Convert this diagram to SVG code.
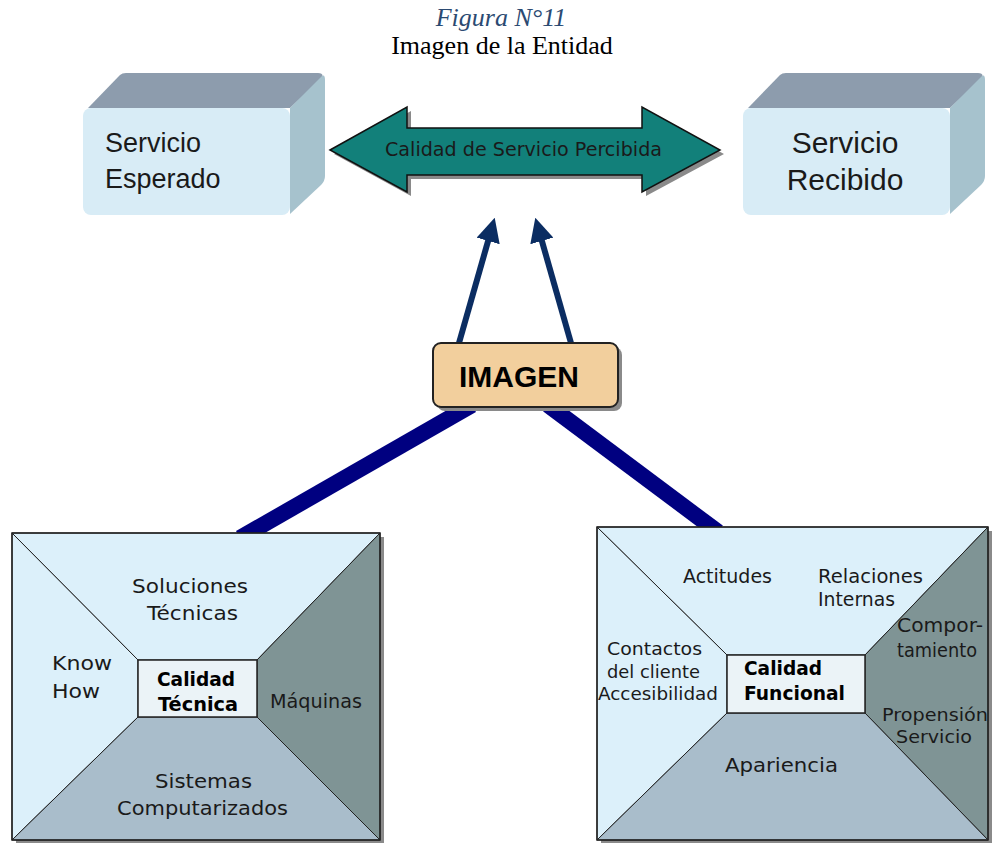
<svg xmlns="http://www.w3.org/2000/svg" width="994" height="843" viewBox="0 0 994 843">
<defs>
<style>
.title{font-family:"Liberation Serif","Times New Roman",serif;font-size:26px;text-anchor:middle}
.big{font-family:"Liberation Sans",Arial,sans-serif;fill:#1a1a1a}
.lbl{font-family:"DejaVu Sans","Liberation Sans",sans-serif;font-size:20px;fill:#1a1a1a}
.sm{font-size:18px}
.bold{font-family:"DejaVu Sans","Liberation Sans",sans-serif;font-size:19px;font-weight:bold;fill:#000}
.front{fill:#d8ecf6}
.top{fill:#8d9cad}
.side{fill:#a6c2cd}
.light{fill:#dcf0fa;stroke:#222;stroke-width:1}
.mid{fill:#a9bdcb;stroke:#222;stroke-width:1}
.dark{fill:#7f9495;stroke:#222;stroke-width:1}
.inner{fill:#ebf3f7;stroke:#222;stroke-width:1.5}
.shadow{fill:#8a8a8a}
.up{stroke:#0b2d62;stroke-width:6;fill:none;marker-end:url(#ah)}
.thick{stroke:#000080;stroke-width:16;fill:none}
</style>
<marker id="ah" viewBox="0 0 24 24" refX="12" refY="12" markerWidth="24" markerHeight="24" markerUnits="userSpaceOnUse" orient="auto">
<path d="M0,0 L24,12 L0,24 z" fill="#0b2d62"/>
</marker>
</defs>
<rect width="994" height="843" fill="#fff"/>

<g id="title">
<text class="title" x="501" y="26" font-style="italic" fill="#2b4a72">Figura N°11</text>
<text class="title" x="502" y="54" fill="#000">Imagen de la Entidad</text>
</g>

<g id="connectors">
<line class="thick" x1="472" y1="405" x2="240" y2="538"/>
<line class="thick" x1="548" y1="405" x2="718" y2="532"/>
<line class="up" x1="457" y1="350" x2="491.4" y2="229.4"/>
<line class="up" x1="573" y1="350" x2="538.6" y2="229.4"/>
</g>

<g id="servicio-esperado">
<path class="top" d="M88,108 L120,75 Q122,73 126,73 L318,73 Q324,73 322,78 L290,108 z"/>
<path class="side" d="M290,108 L322,76 Q325,74 325,80 L325,176 Q325,181 321,185 L290,214 z"/>
<rect class="front" x="83" y="108" width="207" height="107" rx="8"/>
<text class="big" font-size="27" x="105" y="152">Servicio</text>
<text class="big" font-size="27" x="105" y="188">Esperado</text>
</g>

<g id="servicio-recibido">
<path class="top" d="M748,108 L780,75 Q782,73 786,73 L978,73 Q984,73 982,78 L950,108 z"/>
<path class="side" d="M950,108 L982,76 Q985,74 985,80 L985,176 Q985,181 981,185 L950,214 z"/>
<rect class="front" x="743" y="108" width="207" height="107" rx="8"/>
<text class="big" font-size="30" x="845" y="153" text-anchor="middle">Servicio</text>
<text class="big" font-size="30" x="845" y="190" text-anchor="middle">Recibido</text>
</g>

<g id="calidad-percibida">
<polygon class="shadow" points="334,154 411,111 411,132 646,132 646,111 724,154 646,196 646,179 411,179 411,196"/>
<polygon points="330,150 407,107 407,128 642,128 642,107 720,150 642,192 642,175 407,175 407,192" fill="#12807a" stroke="#111" stroke-width="1.5"/>
<text class="lbl" x="385" y="156" font-size="19" textLength="277" lengthAdjust="spacingAndGlyphs" fill="#000">Calidad de Servicio Percibida</text>
</g>

<g id="imagen">
<rect class="shadow" x="437" y="347" width="185" height="64" rx="8"/>
<rect x="433" y="343" width="185" height="64" rx="8" fill="#f2cf9d" stroke="#222" stroke-width="2"/>
<text x="519" y="387" font-family="Liberation Sans,Arial,sans-serif" font-size="30" font-weight="bold" text-anchor="middle" fill="#000">IMAGEN</text>
</g>

<g id="calidad-tecnica">
<rect class="shadow" x="16" y="537" width="368" height="307"/>
<polygon class="light" points="12,533 380,533 257,660 138,660"/>
<polygon class="light" points="12,533 138,660 138,717 12,840"/>
<polygon class="dark" points="380,533 380,840 257,717 257,660"/>
<polygon class="mid" points="12,840 138,717 257,717 380,840"/>
<rect x="12" y="533" width="368" height="307" fill="none" stroke="#222" stroke-width="1.5"/>
<rect class="inner" x="138" y="660" width="119" height="57"/>
<text class="lbl" x="132" y="593" textLength="116" lengthAdjust="spacingAndGlyphs">Soluciones</text>
<text class="lbl" x="147" y="620" textLength="91" lengthAdjust="spacingAndGlyphs">Técnicas</text>
<text class="lbl" x="52" y="670" textLength="60" lengthAdjust="spacingAndGlyphs">Know</text>
<text class="lbl" x="52" y="698" textLength="48" lengthAdjust="spacingAndGlyphs">How</text>
<text class="bold" x="157" y="686" textLength="78" lengthAdjust="spacingAndGlyphs">Calidad</text>
<text class="bold" x="158" y="711" textLength="80" lengthAdjust="spacingAndGlyphs">Técnica</text>
<text class="lbl" x="270" y="708" font-size="18" textLength="92" lengthAdjust="spacingAndGlyphs">Máquinas</text>
<text class="lbl" x="155" y="788" textLength="97" lengthAdjust="spacingAndGlyphs">Sistemas</text>
<text class="lbl" x="117" y="815" textLength="171" lengthAdjust="spacingAndGlyphs">Computarizados</text>
</g>

<g id="calidad-funcional">
<rect class="shadow" x="601" y="531" width="391" height="313"/>
<polygon class="light" points="597,527 988,527 865,655 727,655"/>
<polygon class="light" points="597,527 727,655 727,713 597,840"/>
<polygon class="dark" points="988,527 988,840 865,713 865,655"/>
<polygon class="mid" points="597,840 727,713 865,713 988,840"/>
<rect x="597" y="527" width="391" height="313" fill="none" stroke="#222" stroke-width="1.5"/>
<rect class="inner" x="727" y="655" width="138" height="58"/>
<text class="lbl" x="683" y="583" textLength="89" lengthAdjust="spacingAndGlyphs">Actitudes</text>
<text class="lbl" x="818" y="583" textLength="105" lengthAdjust="spacingAndGlyphs">Relaciones</text>
<text class="lbl" x="818" y="606" textLength="77" lengthAdjust="spacingAndGlyphs">Internas</text>
<text class="lbl" x="897" y="632" textLength="86" lengthAdjust="spacingAndGlyphs">Compor-</text>
<text class="lbl" x="897" y="657" textLength="80" lengthAdjust="spacingAndGlyphs">tamiento</text>
<text class="lbl sm" x="607" y="655" textLength="95" lengthAdjust="spacingAndGlyphs">Contactos</text>
<text class="lbl sm" x="607" y="678" textLength="93" lengthAdjust="spacingAndGlyphs">del cliente</text>
<text class="lbl sm" x="598" y="700" textLength="120" lengthAdjust="spacingAndGlyphs">Accesibilidad</text>
<text class="bold" x="744" y="675" textLength="78" lengthAdjust="spacingAndGlyphs">Calidad</text>
<text class="bold" x="744" y="700" textLength="101" lengthAdjust="spacingAndGlyphs">Funcional</text>
<text class="lbl sm" x="882" y="721" textLength="106" lengthAdjust="spacingAndGlyphs">Propensión</text>
<text class="lbl sm" x="896" y="743" textLength="76" lengthAdjust="spacingAndGlyphs">Servicio</text>
<text class="lbl" x="725" y="772" textLength="113" lengthAdjust="spacingAndGlyphs">Apariencia</text>
</g>
</svg>
